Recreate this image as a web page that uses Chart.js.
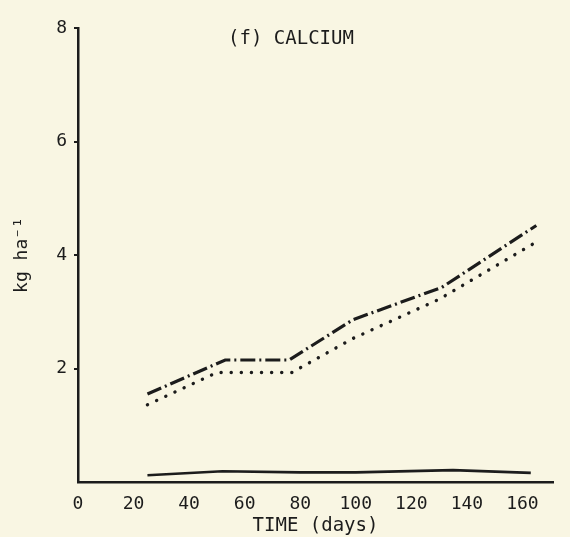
<!DOCTYPE html>
<html>
<head>
<meta charset="utf-8">
<script src="https://cdn.jsdelivr.net/npm/chart.js@4"></script>
<style>
  html, body { margin: 0; padding: 0; background: #f9f6e3; }
  canvas { display: block; }
</style>
</head>
<body>
<canvas id="chart" width="570" height="537"></canvas>
<script>
// values (days, kg ha-1)
var dashDays   = [25, 53, 76, 99, 131, 165];
var dashValues = [1.55, 2.15, 2.15, 2.86, 3.43, 4.52];
var dotDays    = [25, 50, 77, 99, 130, 164];
var dotValues  = [1.36, 1.93, 1.93, 2.53, 3.22, 4.2];
var solidDays   = [25, 52, 80, 100, 135, 163];
var solidValues = [0.12, 0.19, 0.17, 0.17, 0.21, 0.16];
var xTicks = [0, 20, 40, 60, 80, 100, 120, 140, 160];
var yTicks = [2, 4, 6, 8];
var chartTitle = '(f) CALCIUM';

var ink = '#1c1c1c';
var paper = '#f9f6e3';
var mono = "'DejaVu Sans Mono', 'Liberation Mono', monospace";

function points(xs, ys) {
  return xs.map(function(x, i) { return {x: x, y: ys[i]}; });
}

var paperPlugin = {
  id: 'paper',
  beforeDraw: function(chart) {
    var ctx = chart.ctx;
    ctx.save();
    ctx.fillStyle = paper;
    ctx.fillRect(0, 0, chart.width, chart.height);
    ctx.restore();
  },
  afterDraw: function(chart) {
    // panel label sits inside the plot, left of centre
    var ctx = chart.ctx, area = chart.chartArea;
    ctx.save();
    ctx.fillStyle = ink;
    ctx.font = '19px ' + mono;
    ctx.textAlign = 'center';
    ctx.textBaseline = 'middle';
    ctx.fillText(chartTitle, area.left + 213, area.top + 11);
    ctx.restore();
  }
};

new Chart(document.getElementById('chart').getContext('2d'), {
  type: 'line',
  data: {
    datasets: [
      {
        data: points(dashDays, dashValues),
        borderColor: ink,
        borderWidth: 3.2,
        borderDash: [15, 4, 2, 4],
        pointRadius: 0,
        tension: 0
      },
      {
        data: points(dotDays, dotValues),
        borderColor: ink,
        borderWidth: 3.4,
        borderCapStyle: 'round',
        borderDash: [0.1, 10],
        pointRadius: 0,
        tension: 0
      },
      {
        data: points(solidDays, solidValues),
        borderColor: ink,
        borderWidth: 2.6,
        pointRadius: 0,
        tension: 0
      }
    ]
  },
  options: {
    responsive: false,
    animation: false,
    layout: { padding: { top: 28, right: 17, left: 12, bottom: 0 } },
    plugins: {
      legend: { display: false },
      tooltip: { enabled: false }
    },
    scales: {
      x: {
        type: 'linear',
        min: 0,
        max: 171,
        afterBuildTicks: function(scale) {
          scale.ticks = xTicks.map(function(v) { return {value: v}; });
        },
        afterFit: function(scale) { scale.height = 55; },
        grid: { display: false },
        border: { color: ink, width: 2.5 },
        ticks: {
          color: ink,
          font: { family: mono, size: 18 },
          padding: 4,
          maxRotation: 0
        },
        title: {
          display: true,
          text: 'TIME (days)',
          color: ink,
          font: { family: mono, size: 19 },
          padding: { top: 0, bottom: 0 }
        }
      },
      y: {
        min: 0,
        max: 8,
        afterBuildTicks: function(scale) {
          scale.ticks = yTicks.map(function(v) { return {value: v}; });
        },
        afterFit: function(scale) { scale.width = 66; },
        grid: { drawOnChartArea: false, tickLength: 4, color: ink, lineWidth: 2 },
        border: { color: ink, width: 2.5 },
        ticks: {
          color: ink,
          font: { family: mono, size: 18 },
          padding: 7
        },
        title: {
          display: true,
          text: 'kg ha\u207B\u00B9',
          color: ink,
          font: { family: mono, size: 18 },
          padding: { top: 0, bottom: 0 }
        }
      }
    }
  },
  plugins: [paperPlugin]
});
</script>
</body>
</html>
